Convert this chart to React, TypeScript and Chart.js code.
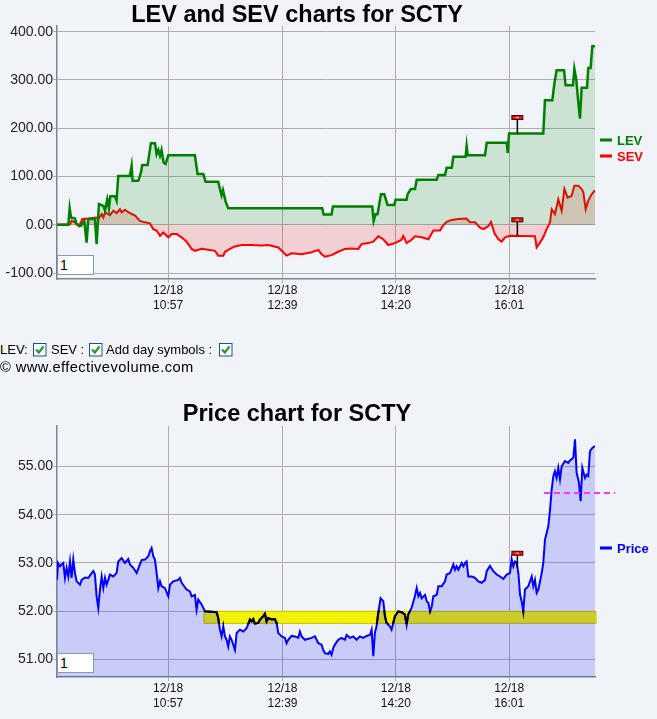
import React, { useEffect, useRef } from 'react';
import Chart from 'chart.js/auto';

// ---------- data ----------
const dayLabel = '12/18';
const tickTimes = [657, 759, 860, 961];
const tickTimeLabels = ['10:57', '12:39', '14:20', '16:01'];
const xMin = 558;
const xMax = 1037.5;

const levTicks = [-100, 0, 100, 200, 300, 400];
const levMin = -112.4;
const levMax = 411.8;
const priceTicks = [51, 52, 53, 54, 55];
const priceMin = 50.64;
const priceMax = 55.835;

const levT = [
  558, 568.1, 569.3, 570.5, 574, 575.5, 579.4, 582.3, 584.4, 585.9,
  591.8, 593.3, 595.4, 599.3, 600.8, 602.8, 604.3, 605.5, 609.7, 611.1,
  612.6, 623, 624.5, 625.4, 630.5, 632.8, 634, 638.8, 641.7, 645.3,
  646.8, 648.3, 649.8, 651.2, 653, 654.8, 657.2, 680.9, 683.3, 688.4,
  690.4, 701.7, 703.2, 704.7, 705.9, 708.3, 710.6, 794.4, 795.6, 802.7,
  803.9, 839, 840.2, 841.9, 843.7, 846.7, 849.7, 852.6, 858.6, 859.8,
  869.6, 870.4, 873.4, 877.1, 878.6, 896.4, 897.9, 903.8, 905.3, 909.8,
  911.3, 922.2, 923.1, 924, 939.5, 941, 958.8, 959.7, 960.9, 991.4,
  992.9, 999.5, 1001.2, 1003.3, 1009.9, 1011.3, 1017.9, 1019.1, 1020.8, 1022.6,
  1024.1, 1025.6, 1030.4, 1031.5, 1033.6, 1035.1, 1037.5,
];
const levV = [
  0, 0, 34, 15, 13, 1, -2, 8, -37, 12,
  12, -40, 43, 39, 29, 53, 34, 59, 59, 50,
  101, 101, 122, 91, 91, 108, 124, 124, 169, 169,
  146, 155, 143, 155, 129, 126, 144, 144, 105, 105,
  89, 89, 74, 61, 72, 48, 34, 34, 21, 21,
  38, 38, 8, 22, 22, 63, 63, 41, 41, 52,
  52, 63, 74, 74, 93, 93, 103, 103, 118, 118,
  141, 141, 163, 144, 144, 170, 170, 149, 189, 189,
  258, 258, 291, 320, 320, 289, 289, 323, 301, 254,
  220, 284, 284, 325, 325, 370, 370,
];

const sevT = [
  558, 569.6, 571, 574, 577.6, 580.6, 585.9, 593.3, 594.8, 597.8,
  599.3, 600.8, 605.2, 608.2, 611.1, 614.1, 615.6, 618.6, 621.5, 627.5,
  631.9, 636.4, 640.8, 643.8, 646.8, 649.8, 652.7, 657.2, 660.2, 664.6,
  669.1, 673.5, 678, 680.9, 686.9, 692.8, 698.8, 701.7, 706.2, 707.7,
  712.1, 716.6, 722.5, 731.4, 740.4, 746.3, 755.2, 759.7, 762.6, 767.1,
  776, 784.9, 790.9, 793.8, 796.8, 802.7, 808.7, 814.6, 820.6, 826.5,
  829.5, 835.4, 839.9, 844.3, 848.8, 853.2, 859.2, 865.1, 866.6, 869.6,
  874, 877.1, 883, 889, 893.4, 899.4, 902.3, 905.3, 909.8, 915.7,
  923.1, 926.1, 930.6, 935, 938, 942.4, 944.8, 947.8, 951.4, 954.3,
  957.3, 961.7, 984, 985.5, 988.5, 991.4, 994.4, 997.4, 998.9, 1001.8,
  1004.8, 1007.8, 1010.2, 1013.1, 1016.7, 1019.1, 1022.6, 1025.6, 1027.1, 1029.2,
  1031.5, 1034.5, 1037.5,
];
const sevV = [
  0, 1, 8, 5, -3, 12, 13, 15, 12, 22,
  15, 26, 20, 29, 24, 32, 26, 31, 26, 19,
  8, 5, 3, -9, -12, -23, -16, -26, -19, -19,
  -26, -35, -50, -54, -50, -52, -54, -64, -64, -56,
  -50, -45, -42, -42, -43, -42, -47, -57, -64, -59,
  -61, -57, -52, -61, -66, -63, -56, -50, -49, -50,
  -40, -38, -35, -24, -30, -42, -38, -31, -23, -38,
  -31, -24, -26, -30, -12, -12, -1, 6, 10, 12,
  13, 5, 5, -6, -9, -3, 6, -17, -30, -35,
  -26, -23, -24, -47, -37, -26, -9, 5, 32, 22,
  53, 29, 74, 56, 60, 81, 81, 74, 67, 32,
  50, 63, 72,
];

const priceT = [
  558, 558.9, 560.7, 562.1, 563.6, 565.1, 566.6, 568.1, 569.6, 571,
  572.5, 574, 575.5, 578.5, 580, 582.9, 585.9, 588.9, 590.4, 591.8,
  593.3, 594.8, 596.3, 597.8, 599.3, 600.8, 602.2, 603.7, 605.2, 608.2,
  611.1, 612.6, 615.6, 618.6, 621.5, 623, 626, 629, 631.9, 633.4,
  636.4, 639.4, 640.8, 642.3, 643.8, 645.3, 646.8, 648.3, 649.8, 651.2,
  654.2, 657.2, 658.7, 661.6, 666.1, 667.6, 669.1, 673.5, 676.5, 678,
  680.9, 682.4, 683.9, 686.9, 689.9, 695.8, 700.3, 701.7, 703.2, 704.7,
  706.2, 707.7, 709.2, 710.6, 712.1, 713.6, 716.6, 718.1, 721.1, 724,
  727, 730, 731.5, 732.9, 734.4, 737.4, 738.9, 741.8, 743.3, 744.8,
  746.3, 749.3, 752.2, 753.7, 755.2, 758.2, 761.2, 762.6, 764.1, 767.1,
  770.1, 773, 774.5, 776, 779, 784.9, 787.9, 790.9, 793.8, 795.3,
  796.8, 799.8, 801.2, 802.7, 804.2, 805.7, 808.7, 811.6, 814.6, 816.1,
  819.1, 822, 825, 828, 830.9, 833.9, 836.9, 838.4, 839.9, 841.3,
  842.8, 844.3, 846.4, 848.8, 850.3, 851.7, 854.7, 856.2, 857.7, 859.2,
  862.1, 865.1, 868.1, 869.6, 871, 874, 877, 878.6, 880.1, 881.6,
  883, 886, 887.5, 889, 890.5, 892, 893.4, 896.4, 897.9, 900.9,
  903.8, 905.3, 908.3, 911.3, 912.7, 914.2, 915.7, 918.7, 920.2, 921.7,
  923.1, 924.6, 927.6, 930.6, 933.5, 936.5, 939.5, 941, 943.9, 946.9,
  949.9, 952.8, 955.8, 958.8, 961.7, 963.2, 964.7, 966.2, 967.7, 969.2,
  970.7, 972.1, 973.6, 975.1, 978.1, 981.1, 982.5, 984, 985.5, 987,
  990, 991.4, 992.9, 995.9, 997.4, 998.9, 1000.4, 1001.8, 1003.3, 1004.8,
  1006.3, 1007.8, 1010.7, 1013.7, 1015.2, 1018.2, 1019.7, 1021.1, 1023.2, 1024.7,
  1026.2, 1028.6, 1030.1, 1031.5, 1033, 1035.1, 1037.5,
];
const priceV = [
  52.65, 53.0, 52.93, 52.97, 53.0, 52.69, 52.9, 52.72, 53.03, 52.69,
  53.07, 52.79, 52.62, 52.55, 52.65, 52.7, 52.69, 52.79, 52.83, 52.76,
  52.31, 52.07, 52.45, 52.72, 52.48, 52.69, 52.55, 52.65, 52.76, 52.72,
  52.79, 53.03, 53.1, 53.0, 53.08, 52.97, 52.9, 52.79, 52.97, 53.06,
  53.07, 53.14, 53.24, 53.31, 53.14, 53.07, 52.79, 52.48, 52.62, 52.52,
  52.48, 52.31, 52.55, 52.62, 52.65, 52.69, 52.59, 52.45, 52.41, 52.31,
  52.34, 52.03, 52.24, 52.14, 52.0, 51.99, 51.98, 51.86, 51.62, 51.48,
  51.69, 51.48, 51.41, 51.27, 51.48, 51.41, 51.2, 51.55, 51.62, 51.58,
  51.65, 51.83, 51.79, 51.84, 51.74, 51.76, 51.83, 51.9, 51.95, 51.79,
  51.86, 51.83, 51.84, 51.76, 51.55, 51.48, 51.45, 51.34, 51.41, 51.49,
  51.48, 51.45, 51.58, 51.48, 51.41, 51.45, 51.48, 51.34, 51.31, 51.2,
  51.13, 51.12, 51.17, 51.1, 51.24, 51.31, 51.41, 51.45, 51.41, 51.51,
  51.45, 51.48, 51.41, 51.48, 51.45, 51.49, 51.51, 51.62, 51.07, 51.55,
  51.69, 51.96, 52.27, 52.21, 51.9, 51.76, 51.69, 51.62, 51.76, 51.9,
  52.0, 51.98, 51.93, 51.72, 51.93, 52.07, 52.31, 52.48, 52.31, 52.38,
  52.27, 52.34, 52.21, 52.17, 52.0, 52.1, 52.31, 52.34, 52.52, 52.52,
  52.62, 52.76, 52.79, 52.97, 52.86, 52.93, 52.86, 53.0, 52.93, 53.0,
  53.03, 52.72, 52.72, 52.69, 52.62, 52.59, 52.65, 52.83, 52.94, 52.83,
  52.76, 52.72, 52.67, 52.76, 52.79, 53.08, 52.93, 53.03, 53.0, 52.79,
  52.34, 52.21, 52.0, 52.45, 52.52, 52.72, 52.52, 52.65, 52.38, 52.45,
  52.79, 53.0, 53.48, 53.76, 54.1, 54.52, 54.8, 54.9, 54.76, 54.97,
  54.73, 55.0, 55.11, 55.07, 55.12, 55.18, 55.56, 54.87, 54.66, 54.28,
  54.97, 54.76, 54.83, 54.8, 55.31, 55.38, 55.42,
];

// day-symbol flags: [time, line value, flag value]
const levFlag = [968.3, 189, 218];
const sevFlag = [968.3, -24, 6];
const priceFlag = [968.3, 52.9, 53.16];

// yellow band and magenta level in price chart
const bandLow = 51.75;
const bandHigh = 52.0;
const bandStart = 689;
const levelValue = 54.45;
const levelStart = 992;

// ---------- styles ----------
const BG = '#f0f4f8';
const FONT = '"Liberation Sans", Arial, sans-serif';
const GRID = '#aeaeae';
const AXIS = '#7d8591';

const toXY = (t: number[], v: number[]) => t.map((x, i) => ({ x, y: v[i] }));

function drawFlag(ctx: CanvasRenderingContext2D, x: number, yBase: number, yTop: number) {
  ctx.save();
  ctx.strokeStyle = '#000';
  ctx.lineWidth = 1.5;
  ctx.beginPath();
  ctx.moveTo(x, yBase);
  ctx.lineTo(x, yTop);
  ctx.stroke();
  ctx.fillStyle = '#ee1111';
  ctx.fillRect(x - 5.5, yTop - 4, 11, 4);
  ctx.strokeStyle = '#500000';
  ctx.lineWidth = 1;
  ctx.strokeRect(x - 5.5, yTop - 4, 11, 4);
  ctx.fillStyle = '#ffffff';
  ctx.fillRect(x - 1.5, yTop - 2.5, 3, 1);
  ctx.restore();
}

function drawLegendItem(ctx: CanvasRenderingContext2D, y: number, label: string, color: string) {
  ctx.save();
  ctx.strokeStyle = color;
  ctx.lineWidth = 3;
  ctx.beginPath();
  ctx.moveTo(600, y);
  ctx.lineTo(612, y);
  ctx.stroke();
  ctx.fillStyle = color;
  ctx.font = 'bold 13px ' + FONT;
  ctx.textAlign = 'left';
  ctx.textBaseline = 'alphabetic';
  ctx.fillText(label, 617, y + 5);
  ctx.restore();
}

function drawTitle(ctx: CanvasRenderingContext2D, text: string, baseline: number) {
  ctx.save();
  ctx.fillStyle = '#000';
  ctx.font = 'bold 23.5px ' + FONT;
  ctx.textAlign = 'center';
  ctx.textBaseline = 'alphabetic';
  ctx.fillText(text, 297, baseline);
  ctx.restore();
}

function makeOptions(yMin: number, yMax: number, yTicks: number[], topPad: number, xAxisH: number): any {
  const grid = { color: GRID, lineWidth: 1, tickLength: 4, drawTicks: true };
  const border = { color: AXIS, width: 1.5 };
  return {
    responsive: false,
    animation: false,
    events: [],
    layout: { padding: { top: topPad, right: 62, left: 0, bottom: 0 } },
    plugins: { legend: { display: false }, tooltip: { enabled: false }, title: { display: false } },
    elements: { point: { radius: 0 }, line: { tension: 0 } },
    scales: {
      x: {
        type: 'linear',
        min: xMin,
        max: xMax,
        afterBuildTicks: (s: any) => {
          s.ticks = tickTimes.map((v) => ({ value: v }));
        },
        afterFit: (s: any) => {
          s.height = xAxisH;
        },
        ticks: {
          autoSkip: false,
          maxRotation: 0,
          minRotation: 0,
          padding: 0,
          color: '#111',
          font: { family: FONT, size: 12, lineHeight: 1.25 },
          callback: (_v: any, i: number) => [dayLabel, tickTimeLabels[i]],
        },
        grid,
        border,
      },
      y: {
        type: 'linear',
        min: yMin,
        max: yMax,
        afterBuildTicks: (s: any) => {
          s.ticks = yTicks.map((v) => ({ value: v }));
        },
        afterFit: (s: any) => {
          s.width = 57;
        },
        ticks: {
          padding: 0,
          color: '#222',
          font: { family: FONT, size: 14 },
          callback: (v: any) => Number(v).toFixed(2),
        },
        grid,
        border,
      },
    },
  };
}

const Check = ({ left }: { left: number }) => (
  <svg style={{ position: 'absolute', left, top: 343 }} width={14} height={14}>
    <rect x={0.5} y={0.5} width={12.5} height={12.5} fill="#ffffff" stroke="#1c5180" strokeWidth={1} />
    <path d="M3 6.5 L5.8 9.5 L10.5 3.5" stroke="#1aa02a" strokeWidth={2.2} fill="none" />
  </svg>
);

const InputBox = ({ top }: { top: number }) => (
  <div
    style={{
      position: 'absolute',
      left: 57,
      top,
      width: 37,
      height: 20,
      boxSizing: 'border-box',
      border: '1px solid #7f9db9',
      background: '#ffffff',
      font: '14px ' + FONT,
      color: '#000',
      display: 'flex',
      alignItems: 'center',
      paddingLeft: 2,
    }}
  >
    1
  </div>
);

export default function App() {
  const topRef = useRef<HTMLCanvasElement>(null);
  const botRef = useRef<HTMLCanvasElement>(null);

  useEffect(() => {
    document.body.style.margin = '0';
    document.body.style.background = BG;

    const topDeco = {
      id: 'topDeco',
      afterDraw(chart: any) {
        const { ctx, scales } = chart;
        drawTitle(ctx, 'LEV and SEV charts for SCTY', 22);
        drawLegendItem(ctx, 140, 'LEV', '#008000');
        drawLegendItem(ctx, 156, 'SEV', '#ff0000');
        const fx = scales.x.getPixelForValue(levFlag[0]);
        drawFlag(ctx, fx, scales.y.getPixelForValue(levFlag[1]), scales.y.getPixelForValue(levFlag[2]));
        drawFlag(ctx, fx, scales.y.getPixelForValue(sevFlag[1]), scales.y.getPixelForValue(sevFlag[2]));
      },
    };

    const c1 = new Chart(topRef.current as HTMLCanvasElement, {
      type: 'line',
      data: {
        datasets: [
          {
            label: 'LEV',
            data: toXY(levT, levV),
            borderColor: '#008000',
            borderWidth: 2.5,
            backgroundColor: 'rgba(0,128,0,0.15)',
            fill: 'origin',
            pointRadius: 0,
          },
          {
            label: 'SEV',
            data: toXY(sevT, sevV),
            borderColor: '#ff0000',
            borderWidth: 2,
            backgroundColor: 'rgba(255,0,0,0.15)',
            fill: 'origin',
            pointRadius: 0,
          },
        ],
      },
      options: makeOptions(levMin, levMax, levTicks, 26, 51),
      plugins: [topDeco],
    } as any);

    const botDeco = {
      id: 'botDeco',
      beforeDatasetsDraw(chart: any) {
        const { ctx, scales, chartArea } = chart;
        const x0 = scales.x.getPixelForValue(bandStart);
        const yH = scales.y.getPixelForValue(bandHigh);
        const yL = scales.y.getPixelForValue(bandLow);
        ctx.save();
        ctx.fillStyle = '#f2f200';
        ctx.fillRect(x0, yH, chartArea.right - x0 + 1, yL - yH);
        ctx.strokeStyle = '#c4c400';
        ctx.lineWidth = 1;
        ctx.strokeRect(x0, yH, chartArea.right - x0 + 1, yL - yH);
        ctx.restore();
      },
      afterDatasetsDraw(chart: any) {
        const { ctx, scales, chartArea } = chart;
        const x0 = scales.x.getPixelForValue(bandStart);
        const yH = scales.y.getPixelForValue(bandHigh);
        const yL = scales.y.getPixelForValue(bandLow);
        const meta = chart.getDatasetMeta(0);
        ctx.save();
        ctx.beginPath();
        ctx.rect(x0, yH - 1, chartArea.right - x0, yL - yH + 2);
        ctx.clip();
        ctx.beginPath();
        meta.data.forEach((p: any, i: number) => {
          if (i === 0) ctx.moveTo(p.x, p.y);
          else ctx.lineTo(p.x, p.y);
        });
        ctx.strokeStyle = '#000';
        ctx.lineWidth = 2;
        ctx.stroke();
        ctx.restore();

        // magenta level line
        const ly = scales.y.getPixelForValue(levelValue);
        ctx.save();
        ctx.strokeStyle = '#ff33ff';
        ctx.lineWidth = 2;
        ctx.setLineDash([6, 4]);
        ctx.beginPath();
        ctx.moveTo(scales.x.getPixelForValue(levelStart), ly);
        ctx.lineTo(chartArea.right + 20, ly);
        ctx.stroke();
        ctx.restore();
      },
      afterDraw(chart: any) {
        const { ctx, scales } = chart;
        drawTitle(ctx, 'Price chart for SCTY', 31);
        drawLegendItem(ctx, 158, 'Price', '#0000ff');
        const fx = scales.x.getPixelForValue(priceFlag[0]);
        drawFlag(ctx, fx, scales.y.getPixelForValue(priceFlag[1]), scales.y.getPixelForValue(priceFlag[2]));
      },
    };

    const c2 = new Chart(botRef.current as HTMLCanvasElement, {
      type: 'line',
      data: {
        datasets: [
          {
            label: 'Price',
            data: toXY(priceT, priceV),
            borderColor: '#0000ff',
            borderWidth: 2,
            backgroundColor: 'rgba(0,0,255,0.16)',
            fill: 'start',
            pointRadius: 0,
          },
        ],
      },
      options: makeOptions(priceMin, priceMax, priceTicks, 36, 42),
      plugins: [botDeco],
    } as any);

    return () => {
      c1.destroy();
      c2.destroy();
    };
  }, []);

  const textBase: React.CSSProperties = {
    position: 'absolute',
    whiteSpace: 'nowrap',
    color: '#000',
  };

  return (
    <div
      style={{
        position: 'relative',
        width: 657,
        height: 719,
        background: BG,
        overflow: 'hidden',
        fontFamily: FONT,
      }}
    >
      <canvas ref={topRef} width={657} height={330} style={{ position: 'absolute', left: 0, top: 0, width: 657, height: 330 }} />
      <InputBox top={255} />

      <div style={{ ...textBase, left: 0, top: 342, font: '13px ' + FONT, lineHeight: '15px' }}>LEV:</div>
      <Check left={33} />
      <div style={{ ...textBase, left: 51, top: 342, font: '13px ' + FONT, lineHeight: '15px' }}>SEV :</div>
      <Check left={89} />
      <div style={{ ...textBase, left: 106, top: 342, font: '13px ' + FONT, lineHeight: '15px' }}>Add day symbols :</div>
      <Check left={219} />
      <div style={{ ...textBase, left: 0, top: 359, font: '14.7px ' + FONT, lineHeight: '17px', letterSpacing: '0.4px' }}>© www.effectivevolume.com</div>

      <canvas ref={botRef} width={657} height={329} style={{ position: 'absolute', left: 0, top: 390, width: 657, height: 329 }} />
      <InputBox top={653} />
    </div>
  );
}
